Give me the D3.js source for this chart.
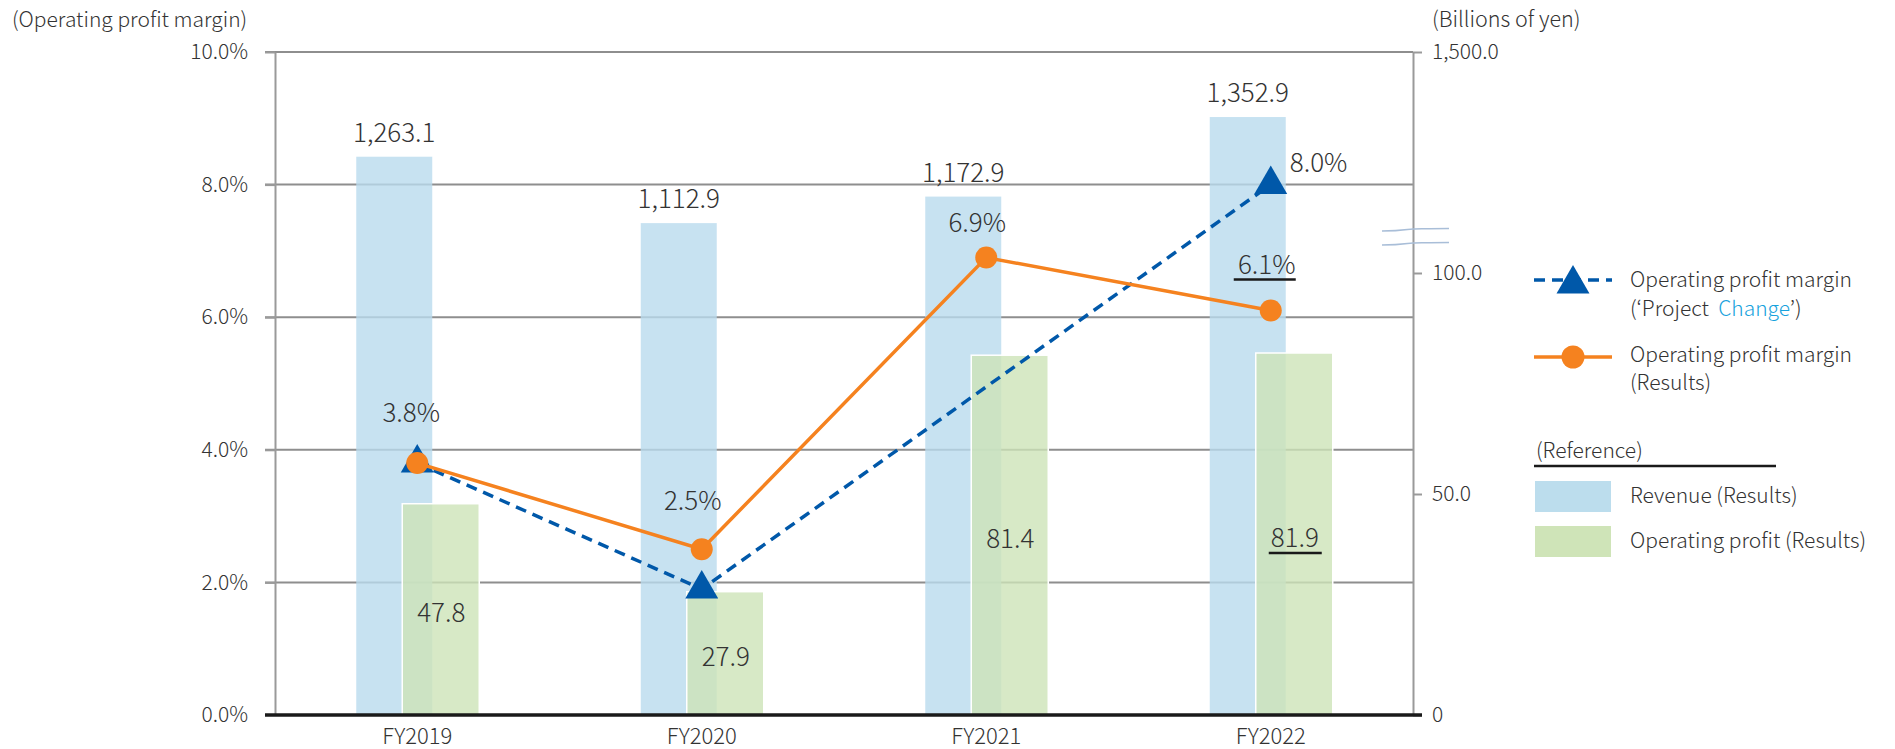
<!DOCTYPE html>
<html lang="en">
<head>
<meta charset="UTF-8">
<title>Operating profit margin</title>
<script src="https://d3js.org/d3.v7.min.js"></script>
<style>
    body { margin: 0; background: #fff; }
    svg { display: block; font-family: "Noto Sans CJK JP", "Noto Sans", sans-serif; font-weight: 300; }
</style>
</head>
<body>
<svg width="1895" height="749"></svg>
<script>
// data
var years = ['FY2019', 'FY2020', 'FY2021', 'FY2022'];
var revenue = [1263.1, 1112.9, 1172.9, 1352.9];        // billions of yen
var opProfit = [47.8, 27.9, 81.4, 81.9];               // billions of yen
var marginResults = [3.8, 2.5, 6.9, 6.1];              // %
var marginPlan = [3.8, 1.9, null, 8.0];                // % ('Project Change')
var marginTicks = [0, 2, 4, 6, 8, 10];
var yenTicks = [0, 50, 100];
var yenTopTick = 1500;

var svg = d3.select('svg');
var textColor = '#333';
var blue = '#0058a9', orange = '#f5821f';
var revColor = '#b9dbee', profColor = '#cde4b8';

// plot area
var plotL = 275, plotR = 1413, plotT = 52, plotB = 715;

var x = d3.scaleBand().domain(years).range([plotL, plotR]);
var yPct = d3.scaleLinear().domain([0, 10]).range([plotB, plotT]);
var yRev = d3.scaleLinear().domain([0, 1500]).range([plotB, plotT]);   // revenue bars
var yProf = d3.scaleLinear().domain([0, 150]).range([plotB, plotT]);   // profit bars (broken axis)
var cx = function (i) { return x(years[i]) + x.bandwidth() / 2; };

// gridlines
svg.append('g')
    .selectAll('line')
    .data(marginTicks.slice(1))
    .enter()
    .append('line')
    .attr('x1', plotL - 10)
    .attr('x2', plotR)
    .attr('y1', function (d) { return yPct(d); })
    .attr('y2', function (d) { return yPct(d); })
    .attr('stroke', '#8e8e8e')
    .attr('stroke-width', 2);

// left axis
var leftAxis = svg.append('g')
    .attr('transform', 'translate(' + plotL + ',0)')
    .call(d3.axisLeft(yPct).tickValues(marginTicks).tickSize(10).tickSizeOuter(0).tickPadding(17)
        .tickFormat(function (d) { return d.toFixed(1) + '%'; }));

// right axis (0 - 100 for profit, then 1,500.0 for revenue above the break)
var rightAxis = svg.append('g')
    .attr('transform', 'translate(' + plotR + ',0)')
    .call(d3.axisRight(yProf).tickValues(yenTicks).tickSize(9).tickSizeOuter(0).tickPadding(10)
        .tickFormat(function (d) { return d === 0 ? '0' : d3.format(',.1f')(d); }));
var rightTop = svg.append('g')
    .attr('transform', 'translate(' + plotR + ',0)')
    .call(d3.axisRight(yRev).tickValues([yenTopTick]).tickSize(9).tickSizeOuter(0).tickPadding(10)
        .tickFormat(d3.format(',.1f')));
rightTop.select('.domain').remove();

[leftAxis, rightAxis, rightTop].forEach(function (a) {
    a.select('.domain').attr('stroke', '#9a9a9a').attr('stroke-width', 2);
    a.selectAll('.tick line').attr('stroke', '#9a9a9a').attr('stroke-width', 2);
    a.selectAll('.tick text').attr('fill', textColor).attr('font-size', 21)
        .attr('font-family', '"Noto Sans CJK JP", "Noto Sans", sans-serif');
});
leftAxis.select('.tick line').remove();

// break marks on right axis
var brk = svg.append('g').attr('fill', 'none').attr('stroke', '#a9bed8').attr('stroke-width', 1.5);
[230, 244].forEach(function (yy) {
    brk.append('path')
        .attr('d', 'M' + (plotR - 31) + ',' + (yy + 1) + ' C' + (plotR - 10) + ',' + (yy + 1) + ' ' +
            (plotR - 5) + ',' + (yy - 1) + ' ' + plotR + ',' + (yy - 1) +
            ' S' + (plotR + 20) + ',' + (yy - 1.5) + ' ' + (plotR + 36) + ',' + (yy - 1.5));
});

// bars
svg.append('g')
    .selectAll('rect')
    .data(revenue)
    .enter()
    .append('rect')
    .attr('x', function (d, i) { return cx(i) - 61; })
    .attr('width', 76)
    .attr('y', function (d) { return yRev(d); })
    .attr('height', function (d) { return plotB - yRev(d); })
    .attr('fill', revColor)
    .attr('fill-opacity', 0.8);

svg.append('g')
    .selectAll('rect')
    .data(opProfit)
    .enter()
    .append('rect')
    .attr('x', function (d, i) { return cx(i) - 15; })
    .attr('width', 77)
    .attr('y', function (d) { return yProf(d); })
    .attr('height', function (d) { return plotB - yProf(d); })
    .attr('fill', profColor)
    .attr('fill-opacity', 0.8)
    .attr('stroke', '#fff')
    .attr('stroke-width', 1.5);

// baseline
svg.append('line')
    .attr('x1', plotL - 10).attr('x2', plotR + 9)
    .attr('y1', plotB).attr('y2', plotB)
    .attr('stroke', '#1a1a1a').attr('stroke-width', 3.5);

// category labels
svg.append('g')
    .selectAll('text')
    .data(years)
    .enter()
    .append('text')
    .attr('x', function (d, i) { return cx(i); })
    .attr('y', 744)
    .attr('text-anchor', 'middle')
    .attr('font-size', 22)
    .attr('fill', textColor)
    .text(function (d) { return d; });

// lines
var line = d3.line()
    .x(function (d) { return cx(d.i); })
    .y(function (d) { return yPct(d.v); });

var planPts = marginPlan.map(function (v, i) { return { i: i, v: v }; })
    .filter(function (d) { return d.v != null; });
var resPts = marginResults.map(function (v, i) { return { i: i, v: v }; });

svg.append('path')
    .datum(planPts)
    .attr('d', line)
    .attr('fill', 'none')
    .attr('stroke', blue)
    .attr('stroke-width', 3.5)
    .attr('stroke-dasharray', '11,7');

svg.append('g')
    .selectAll('path')
    .data(planPts)
    .enter()
    .append('path')
    .attr('d', d3.symbol().type(d3.symbolTriangle).size(470))
    .attr('transform', function (d) { return 'translate(' + cx(d.i) + ',' + yPct(d.v) + ')'; })
    .attr('fill', blue);

svg.append('path')
    .datum(resPts)
    .attr('d', line)
    .attr('fill', 'none')
    .attr('stroke', orange)
    .attr('stroke-width', 3.5);

svg.append('g')
    .selectAll('circle')
    .data(resPts)
    .enter()
    .append('circle')
    .attr('cx', function (d) { return cx(d.i); })
    .attr('cy', function (d) { return yPct(d.v); })
    .attr('r', 11)
    .attr('fill', orange);

// value labels
var labels = svg.append('g').attr('fill', textColor).attr('font-size', 26).attr('text-anchor', 'middle');

labels.selectAll('.rev')
    .data(revenue)
    .enter()
    .append('text')
    .attr('x', function (d, i) { return cx(i) - 23; })
    .attr('y', function (d) { return yRev(d) - 15; })
    .text(function (d) { return d3.format(',.1f')(d); });

labels.selectAll('.prof')
    .data(opProfit)
    .enter()
    .append('text')
    .attr('x', function (d, i) { return cx(i) + 24; })
    .attr('y', function (d) { return (yProf(d) + plotB) / 2 + 13; })
    .text(function (d) { return d.toFixed(1); });

// small nudges so labels sit where the original puts them
var resNudge = [[-6, -41], [-9, -39], [-9, -26], [-4, -37]];
labels.selectAll('.res')
    .data(marginResults)
    .enter()
    .append('text')
    .attr('x', function (d, i) { return cx(i) + resNudge[i][0]; })
    .attr('y', function (d, i) { return yPct(d) + resNudge[i][1]; })
    .text(function (d) { return d.toFixed(1) + '%'; });

labels.append('text')
    .attr('x', cx(3) + 19)
    .attr('y', yPct(marginPlan[3]) - 13)
    .attr('text-anchor', 'start')
    .text(marginPlan[3].toFixed(1) + '%');

// underlines on FY2022 results
var ul = svg.append('g').attr('stroke', '#1a1a1a').attr('stroke-width', 2.5);
ul.append('line')
    .attr('x1', cx(3) - 37).attr('x2', cx(3) + 25)
    .attr('y1', yPct(marginResults[3]) - 31).attr('y2', yPct(marginResults[3]) - 31);
ul.append('line')
    .attr('x1', cx(3) - 2).attr('x2', cx(3) + 51)
    .attr('y1', (yProf(opProfit[3]) + plotB) / 2 + 19).attr('y2', (yProf(opProfit[3]) + plotB) / 2 + 19);

// axis titles
svg.append('text').attr('x', 12).attr('y', 27).attr('font-size', 21).attr('fill', textColor)
    .text('(Operating profit margin)');
svg.append('text').attr('x', plotR + 19).attr('y', 27).attr('font-size', 21.5).attr('fill', textColor)
    .text('(Billions of yen)');

// legend
var lg = svg.append('g').attr('font-size', 21).attr('fill', textColor);
var lx = 1534, tx = 1630;

lg.append('line').attr('x1', lx).attr('x2', lx + 78).attr('y1', 280).attr('y2', 280)
    .attr('stroke', blue).attr('stroke-width', 3.5).attr('stroke-dasharray', '11,7');
lg.append('path').attr('d', d3.symbol().type(d3.symbolTriangle).size(470))
    .attr('transform', 'translate(' + (lx + 39) + ',284)').attr('fill', blue);
lg.append('text').attr('x', tx).attr('y', 287).text('Operating profit margin');
var t2 = lg.append('text').attr('x', tx).attr('y', 316).attr('xml:space', 'preserve');
t2.append('tspan').text('(\u2018Project  ');
t2.append('tspan').attr('fill', '#18a2dd').text('Change');
t2.append('tspan').text('\u2019)');

lg.append('line').attr('x1', lx).attr('x2', lx + 78).attr('y1', 357).attr('y2', 357)
    .attr('stroke', orange).attr('stroke-width', 3.5);
lg.append('circle').attr('cx', lx + 39).attr('cy', 357).attr('r', 11.5).attr('fill', orange);
lg.append('text').attr('x', tx).attr('y', 362).text('Operating profit margin');
lg.append('text').attr('x', tx).attr('y', 390).text('(Results)');

lg.append('text').attr('x', lx + 2).attr('y', 458).text('(Reference)');
lg.append('line').attr('x1', lx).attr('x2', 1776).attr('y1', 466).attr('y2', 466)
    .attr('stroke', '#1a1a1a').attr('stroke-width', 2.5);

lg.append('rect').attr('x', lx + 1).attr('y', 481).attr('width', 76).attr('height', 31).attr('fill', '#bcdded');
lg.append('text').attr('x', tx).attr('y', 503).text('Revenue (Results)');
lg.append('rect').attr('x', lx + 1).attr('y', 526).attr('width', 76).attr('height', 31).attr('fill', '#cfe4b8');
lg.append('text').attr('x', tx).attr('y', 548).text('Operating profit (Results)');
</script>
</body>
</html>
